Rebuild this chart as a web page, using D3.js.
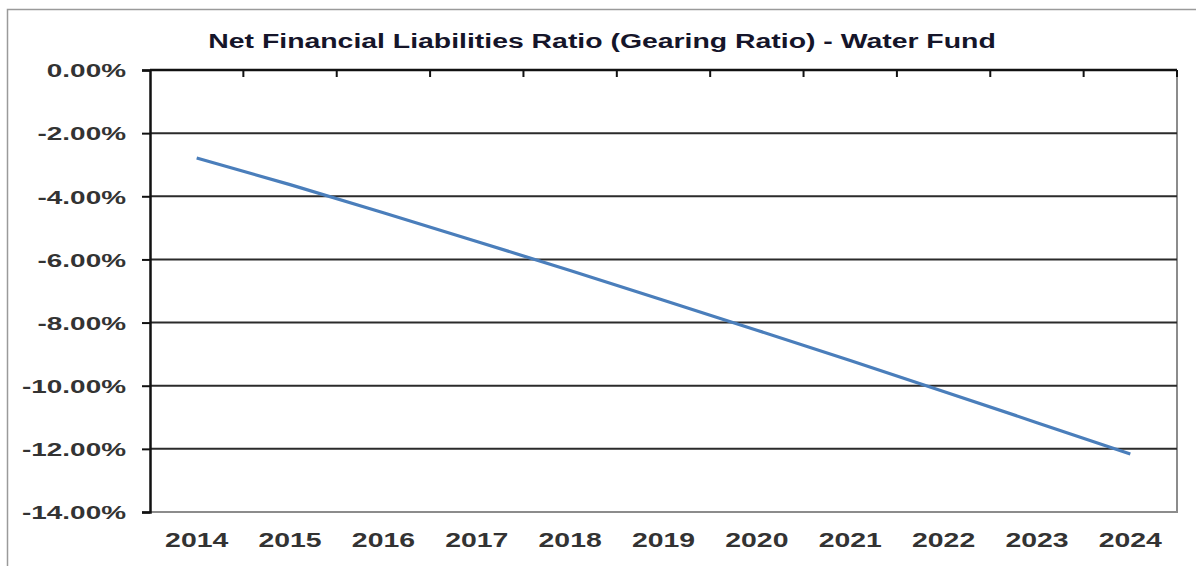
<!DOCTYPE html>
<html>
<head>
<meta charset="utf-8">
<script src="https://cdn.jsdelivr.net/npm/d3@7"></script>
<style>
  html, body { margin: 0; padding: 0; background: #ffffff; }
  svg { display: block; }
  text { font-family: "Liberation Sans", Arial, sans-serif; font-weight: bold; }
</style>
</head>
<body>
<svg id="chart" width="1196" height="566"></svg>
<script>
// Net financial liabilities ratio for the water fund, by year (percent)
const years = ["2014", "2015", "2016", "2017", "2018", "2019", "2020", "2021", "2022", "2023", "2024"];
const ratioValues = [-2.79, -3.63, -4.52, -5.43, -6.35, -7.29, -8.24, -9.20, -10.18, -11.17, -12.16];
const yTickValues = [0, -2, -4, -6, -8, -10, -12, -14];
const chartTitle = "Net Financial Liabilities Ratio (Gearing Ratio) - Water Fund";

const svg = d3.select("#chart");
const W = 1196, H = 566;
const plot = { left: 150, right: 1177, top: 70, bottom: 512 };
const stretch = 1.42; // wide lettering used throughout the chart

const x = d3.scaleBand().domain(years).range([plot.left, plot.right]).padding(0);
const y = d3.scaleLinear().domain([-14, 0]).range([plot.bottom, plot.top]);

// outer frame (top and left edges)
svg.append("path")
  .attr("d", `M7.5,${H} L7.5,9.5 L${W},9.5`)
  .attr("fill", "none")
  .attr("stroke", "#9a9a9a")
  .attr("stroke-width", 1.5);

// title
svg.append("text")
  .attr("transform", `translate(602,48) scale(${stretch},1)`)
  .attr("text-anchor", "middle")
  .attr("font-size", 20)
  .attr("fill", "#15152a")
  .text(chartTitle);

// plot area border (right and bottom)
svg.append("path")
  .attr("d", `M${plot.right},${plot.top} L${plot.right},${plot.bottom} L${plot.left},${plot.bottom}`)
  .attr("fill", "none")
  .attr("stroke", "#8c8c8c")
  .attr("stroke-width", 2);

// horizontal gridlines
svg.append("g")
  .selectAll("line")
  .data(yTickValues.filter(v => v !== 0 && v !== -14))
  .join("line")
  .attr("x1", plot.left).attr("x2", plot.right)
  .attr("y1", d => y(d)).attr("y2", d => y(d))
  .attr("stroke", "#2b2b2b")
  .attr("stroke-width", 2);

// value axis on the left
const yAxis = d3.axisLeft(y)
  .tickValues(yTickValues)
  .tickSize(8)
  .tickPadding(14)
  .tickFormat(d => d.toFixed(2) + "%");
const gy = svg.append("g")
  .attr("transform", `translate(${plot.left},0)`)
  .call(yAxis);
gy.select(".domain").attr("stroke", "#111").attr("stroke-width", 2.5);
gy.selectAll(".tick line").attr("stroke", "#111").attr("stroke-width", 2);
gy.selectAll(".tick text")
  .attr("font-size", 19)
  .attr("fill", "#333")
  .attr("dy", "0.36em")
  .attr("x", null)
  .attr("transform", `translate(-24,0) scale(1.47,1)`);

// category axis crossing at zero (top edge), ticks between categories
const gx = svg.append("g");
gx.append("line")
  .attr("x1", plot.left).attr("x2", plot.right)
  .attr("y1", plot.top).attr("y2", plot.top)
  .attr("stroke", "#111").attr("stroke-width", 2.5);
gx.selectAll("line.cat-tick")
  .data(years.slice(1).concat(["end"]))
  .join("line")
  .attr("class", "cat-tick")
  .attr("x1", (d, i) => plot.left + x.step() * (i + 1))
  .attr("x2", (d, i) => plot.left + x.step() * (i + 1))
  .attr("y1", plot.top).attr("y2", plot.top + 7)
  .attr("stroke", "#111").attr("stroke-width", 2);

// category labels below the plot
svg.append("g")
  .selectAll("text")
  .data(years)
  .join("text")
  .attr("transform", d => `translate(${x(d) + x.bandwidth() / 2},547) scale(${stretch},1)`)
  .attr("text-anchor", "middle")
  .attr("font-size", 20)
  .attr("fill", "#333")
  .text(d => d);

// data line
const line = d3.line()
  .x((d, i) => x(years[i]) + x.bandwidth() / 2)
  .y(d => y(d));
svg.append("path")
  .datum(ratioValues)
  .attr("d", line)
  .attr("fill", "none")
  .attr("stroke", "#4a7ebb")
  .attr("stroke-width", 3.2)
  .attr("stroke-linejoin", "round");
</script>
</body>
</html>
